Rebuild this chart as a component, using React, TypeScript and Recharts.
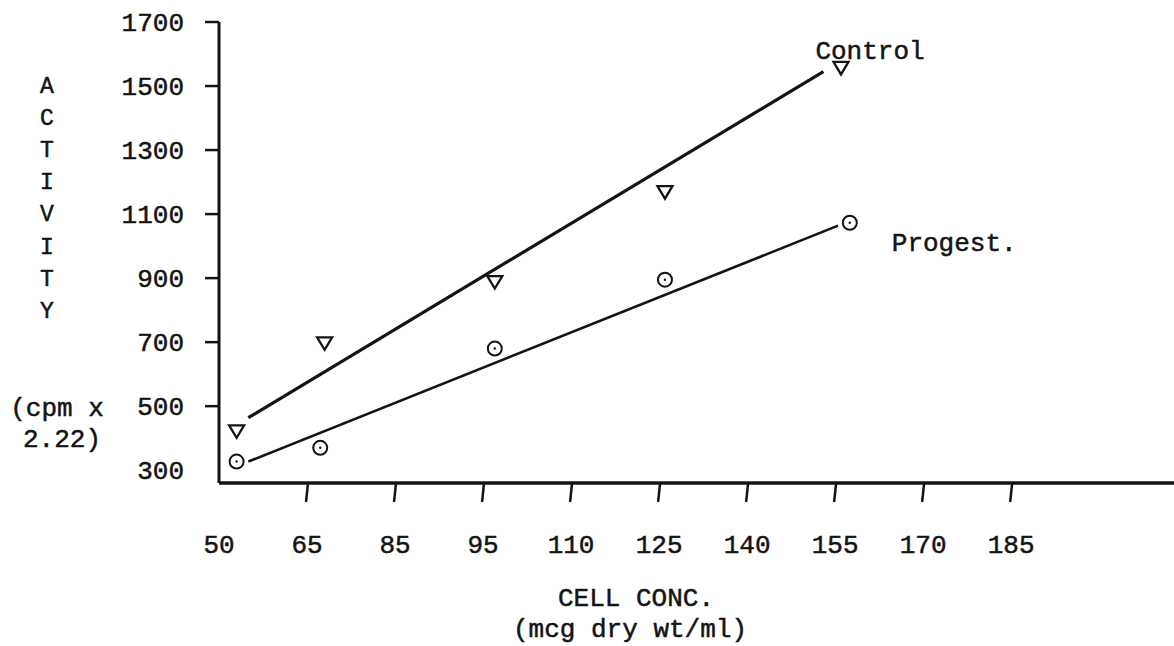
import React from 'react';
import { ScatterChart, Scatter, XAxis, YAxis } from 'recharts';

const xTickLabels = [50, 65, 85, 95, 110, 125, 140, 155, 170, 185];
const yTickLabels = [300, 500, 700, 900, 1100, 1300, 1500, 1700];

const controlConc = [53, 69, 97, 126, 156];
const controlActivity = [423, 698, 889, 1170, 1558];
const progestConc = [53, 68, 97, 126, 157.5];
const progestActivity = [327, 370, 680, 895, 1073];

// hand-fitted lines, endpoints
const controlFitConc = [55, 153];
const controlFitActivity = [464, 1545];
const progestFitConc = [55, 155.5];
const progestFitActivity = [327, 1064];

const yTitleLetters = ['A', 'C', 'T', 'I', 'V', 'I', 'T', 'Y'];

const FONT = '"Liberation Mono", "DejaVu Sans Mono", monospace';
const INK = '#141414';
const FS = 26;

// the hand-ruled x axis spaces its labels evenly, so conc is mapped onto tick index
const toAxis = (v: number) => {
  const n = xTickLabels.length;
  for (let i = 0; i < n - 1; i++) {
    const a = xTickLabels[i];
    const b = xTickLabels[i + 1];
    if (v <= b || i === n - 2) return i + (v - a) / (b - a);
  }
  return 0;
};

const toPoints = (conc: number[], act: number[], name?: string) =>
  conc.map((c, i) => ({
    x: toAxis(c),
    y: act[i],
    name: i === conc.length - 1 ? name : undefined
  }));

const controlData = toPoints(controlConc, controlActivity, 'Control');
const progestData = toPoints(progestConc, progestActivity, 'Progest.');
const controlFit = toPoints(controlFitConc, controlFitActivity);
const progestFit = toPoints(progestFitConc, progestFitActivity);

// a little stroke on the glyphs to get closer to the inked typewriter look
const textStyle = { fontFamily: FONT, fontSize: FS, fill: INK, stroke: INK, strokeWidth: 0.5 };

const XTick = (props: any) => {
  const { x, y, payload } = props;
  const idx = payload.value as number;
  return (
    <g>
      {idx > 0 && <line x1={x + 1} y1={y} x2={x - 1} y2={y + 19} stroke={INK} strokeWidth={2.5} />}
      <text x={x} y={y + 61} dy="0.35em" textAnchor="middle" style={textStyle}>
        {xTickLabels[idx]}
      </text>
    </g>
  );
};

const YTick = (props: any) => {
  const { x, y, payload } = props;
  const v = payload.value as number;
  return (
    <g>
      {v !== yTickLabels[0] && <line x1={x - 14} y1={y} x2={x} y2={y} stroke={INK} strokeWidth={2.5} />}
      <text x={x - 35} y={y} dy="0.35em" textAnchor="end" style={textStyle}>
        {v}
      </text>
    </g>
  );
};

const YTitle = () => (
  <g>
    {yTitleLetters.map((ch, i) => (
      <text key={i} x={47} y={85 + i * 32.1} dy="0.35em" textAnchor="middle" style={{ ...textStyle, fontSize: 23 }}>
        {ch}
      </text>
    ))}
    <text x={57} y={407} dy="0.35em" textAnchor="middle" style={textStyle}>(cpm x</text>
    <text x={62} y={438} dy="0.35em" textAnchor="middle" style={textStyle}>2.22)</text>
  </g>
);

const XTitle = () => (
  <g>
    <text x={636} y={597} dy="0.35em" textAnchor="middle" style={textStyle}>CELL CONC.</text>
    <text x={630} y={628} dy="0.35em" textAnchor="middle" style={textStyle}>(mcg dry wt/ml)</text>
  </g>
);

const Triangle = (props: any) => {
  const { cx, cy, payload } = props;
  return (
    <g>
      <path
        d={`M${cx - 7.5},${cy - 5.5} L${cx + 7.5},${cy - 5.5} L${cx},${cy + 7} Z`}
        fill="#fff"
        stroke={INK}
        strokeWidth={2.3}
      />
      {payload.name && (
        <text x={cx + 29} y={cy - 18} dy="0.35em" textAnchor="middle" style={textStyle}>
          {payload.name}
        </text>
      )}
    </g>
  );
};

const Ring = (props: any) => {
  const { cx, cy, payload } = props;
  return (
    <g>
      <circle cx={cx} cy={cy} r={7} fill="#fff" stroke={INK} strokeWidth={2} />
      <circle cx={cx} cy={cy} r={1.2} fill={INK} />
      {payload.name && (
        <text x={cx + 42} y={cy + 19} dy="0.35em" textAnchor="start" style={textStyle}>
          {payload.name}
        </text>
      )}
    </g>
  );
};

const App = () => {
  return (
    <div style={{ position: 'absolute', left: 0, top: 0, width: 1174, height: 646, background: '#fff' }}>
      <ScatterChart width={1174} height={646} margin={{ top: 22, right: 0, bottom: 103, left: 0 }}>
        <XAxis
          type="number"
          dataKey="x"
          domain={[0, 10.85]}
          allowDataOverflow
          ticks={xTickLabels.map((_, i) => i)}
          tick={<XTick />}
          tickLine={false}
          tickSize={0}
          tickMargin={0}
          height={60}
          axisLine={{ stroke: INK, strokeWidth: 3.5 }}
          label={<XTitle />}
        />
        <YAxis
          type="number"
          dataKey="y"
          domain={[260, 1700]}
          allowDataOverflow
          ticks={yTickLabels}
          tick={<YTick />}
          tickLine={false}
          tickSize={0}
          tickMargin={0}
          width={219}
          axisLine={{ stroke: INK, strokeWidth: 3 }}
          label={<YTitle />}
        />
        <Scatter
          data={controlFit}
          line={{ stroke: INK, strokeWidth: 3.2 }}
          shape={() => <g />}
          isAnimationActive={false}
        />
        <Scatter
          data={progestFit}
          line={{ stroke: INK, strokeWidth: 2.6 }}
          shape={() => <g />}
          isAnimationActive={false}
        />
        <Scatter data={controlData} shape={<Triangle />} isAnimationActive={false} />
        <Scatter data={progestData} shape={<Ring />} isAnimationActive={false} />
      </ScatterChart>
    </div>
  );
};

export default App;
